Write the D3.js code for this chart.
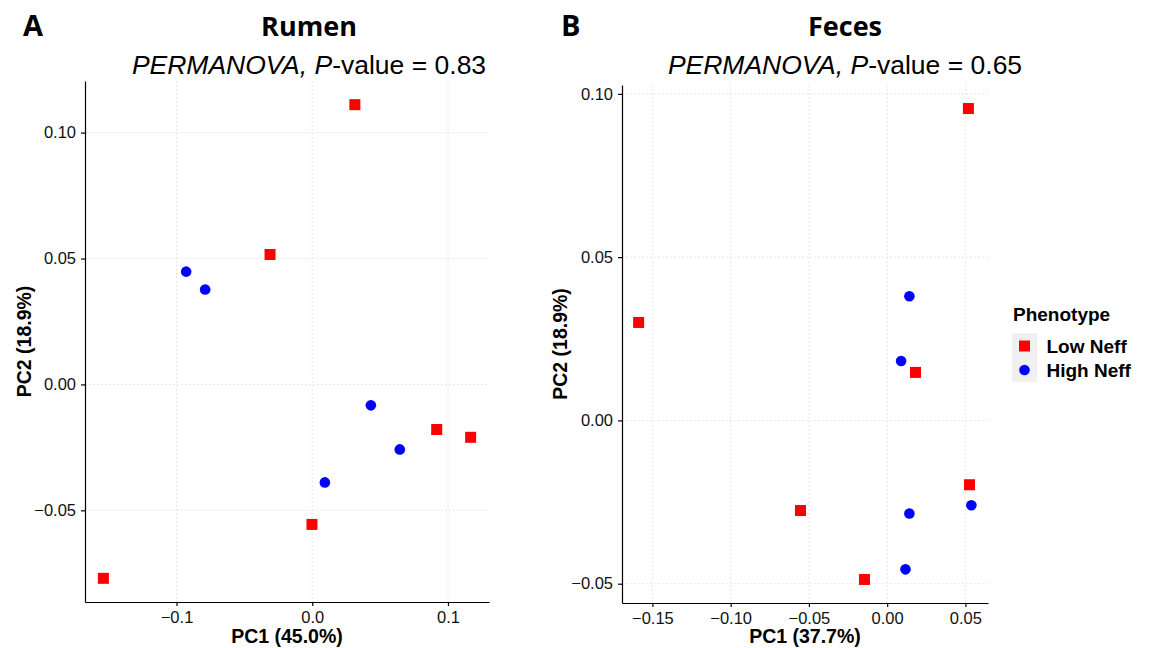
<!DOCTYPE html>
<html>
<head>
<meta charset="utf-8">
<script src="https://cdn.jsdelivr.net/npm/d3@7"></script>
<style>
  body { margin: 0; background: #fff; }
  svg { display: block; font-family: "Liberation Sans", Arial, sans-serif; }
  .grid line { stroke: #dcdcdc; stroke-width: 0.9; stroke-dasharray: 1.5,2.5; }
  .axis path, .axis line { stroke: #000; stroke-width: 1.2; }
  .axis text { font-size: 16.5px; fill: #111; }
</style>
</head>
<body>
<svg width="1149" height="648"></svg>
<script>
// phenotype groups
var phenotypes = ["Low Neff", "High Neff"];
var colors = ["#ff0000", "#0000ff"];

// Rumen PCoA scores
var rumenLowPC1  = [0.0314, -0.0311, 0.0917, 0.1167, -0.0002, -0.1539];
var rumenLowPC2  = [0.1111, 0.0516, -0.0179, -0.0210, -0.0556, -0.0770];
var rumenHighPC1 = [-0.0929, -0.0789, 0.0432, 0.0645, 0.0093];
var rumenHighPC2 = [0.0448, 0.0377, -0.0083, -0.0258, -0.0389];

// Feces PCoA scores
var fecesLowPC1  = [0.0519, -0.1588, 0.0181, 0.0526, -0.0554, -0.0145];
var fecesLowPC2  = [0.0955, 0.0300, 0.0147, -0.0197, -0.0276, -0.0487];
var fecesHighPC1 = [0.0142, 0.0089, 0.0142, 0.0538, 0.0117];
var fecesHighPC2 = [0.0380, 0.0182, -0.0285, -0.0260, -0.0456];

// tick values
var rumenXTicks = [-0.1, 0, 0.1];
var rumenYTicks = [-0.05, 0, 0.05, 0.1];
var fecesXTicks = [-0.15, -0.1, -0.05, 0, 0.05];
var fecesYTicks = [-0.05, 0, 0.05, 0.1];

var svg = d3.select("svg");

function toPoints(pc1, pc2, group) {
    return pc1.map(function(v, i) { return {x: v, y: pc2[i], group: group}; });
}

// ggplot style 5% expansion
function expanded(values) {
    var ext = d3.extent(values), pad = (ext[1] - ext[0]) * 0.05;
    return [ext[0] - pad, ext[1] + pad];
}

function drawPanel(p) {
    var data = toPoints(p.lowX, p.lowY, 0).concat(toPoints(p.highX, p.highY, 1));

    var x = d3.scaleLinear()
        .domain(expanded(data.map(function(d) { return d.x; })))
        .range([p.left, p.right]);
    var y = d3.scaleLinear()
        .domain(expanded(data.map(function(d) { return d.y; })))
        .range([p.bottom, p.top]);

    var g = svg.append("g");

    // dotted grid
    g.append("g").attr("class", "grid")
        .selectAll("line.v").data(p.xTicks).enter().append("line")
        .attr("x1", function(d) { return x(d); }).attr("x2", function(d) { return x(d); })
        .attr("y1", p.top).attr("y2", p.bottom);
    g.append("g").attr("class", "grid")
        .selectAll("line.h").data(p.yTicks).enter().append("line")
        .attr("y1", function(d) { return y(d); }).attr("y2", function(d) { return y(d); })
        .attr("x1", p.left).attr("x2", p.right);

    g.append("g")
        .attr("class", "axis")
        .attr("transform", "translate(0," + p.bottom + ")")
        .call(d3.axisBottom(x).tickValues(p.xTicks).tickFormat(d3.format(p.xFormat))
            .tickSize(4).tickPadding(5).tickSizeOuter(0));

    g.append("g")
        .attr("class", "axis")
        .attr("transform", "translate(" + p.left + ",0)")
        .call(d3.axisLeft(y).tickValues(p.yTicks).tickFormat(d3.format(".2f"))
            .tickSize(4).tickPadding(5).tickSizeOuter(0));

    // points
    g.selectAll(".sq")
        .data(data.filter(function(d) { return d.group === 0; }))
        .enter().append("rect")
        .attr("x", function(d) { return x(d.x) - 5.5; })
        .attr("y", function(d) { return y(d.y) - 5.5; })
        .attr("width", 11).attr("height", 11)
        .attr("fill", colors[0]);
    g.selectAll(".dot")
        .data(data.filter(function(d) { return d.group === 1; }))
        .enter().append("circle")
        .attr("cx", function(d) { return x(d.x); })
        .attr("cy", function(d) { return y(d.y); })
        .attr("r", 5.3)
        .attr("fill", colors[1]);

    // titles
    svg.append("text")
        .attr("x", p.letterX).attr("y", 36)
        .style("font-family", "'Open Sans', sans-serif")
        .style("font-weight", "bold").style("font-size", "29px")
        .text(p.letter);
    svg.append("text")
        .attr("x", p.titleX).attr("y", 36)
        .attr("text-anchor", "middle")
        .style("font-family", "'Open Sans', sans-serif")
        .style("font-weight", "bold").style("font-size", "27px")
        .text(p.title);
    var sub = svg.append("text")
        .attr("x", p.titleX).attr("y", 74)
        .attr("text-anchor", "middle")
        .style("font-size", "26.5px");
    sub.append("tspan").style("font-style", "italic").text("PERMANOVA, P");
    sub.append("tspan").text("-value = " + p.pvalue);

    svg.append("text")
        .attr("x", (p.left + p.right) / 2).attr("y", 643)
        .attr("text-anchor", "middle")
        .style("font-weight", "bold").style("font-size", "19.5px")
        .text(p.xLabel);
    svg.append("text")
        .attr("transform", "translate(" + p.yLabelX + "," + (p.top + p.bottom) / 2 + ") rotate(-90)")
        .attr("text-anchor", "middle")
        .style("font-weight", "bold").style("font-size", "19.5px")
        .text(p.yLabel);
}

drawPanel({
    lowX: rumenLowPC1, lowY: rumenLowPC2, highX: rumenHighPC1, highY: rumenHighPC2,
    xTicks: rumenXTicks, yTicks: rumenYTicks, xFormat: ".1f",
    left: 85, right: 489, top: 81, bottom: 602,
    letter: "A", letterX: 23, title: "Rumen", titleX: 309, pvalue: "0.83",
    xLabel: "PC1 (45.0%)", yLabel: "PC2 (18.9%)", yLabelX: 31
});

drawPanel({
    lowX: fecesLowPC1, lowY: fecesLowPC2, highX: fecesHighPC1, highY: fecesHighPC2,
    xTicks: fecesXTicks, yTicks: fecesYTicks, xFormat: ".2f",
    left: 622, right: 988, top: 85, bottom: 603,
    letter: "B", letterX: 561, title: "Feces", titleX: 845, pvalue: "0.65",
    xLabel: "PC1 (37.7%)", yLabel: "PC2 (18.9%)", yLabelX: 567
});

// legend
var legend = svg.append("g").attr("transform", "translate(1012,0)");
legend.append("text")
    .attr("x", 1).attr("y", 321)
    .style("font-weight", "bold").style("font-size", "19px")
    .text("Phenotype");
legend.append("rect")
    .attr("x", 0).attr("y", 333).attr("width", 25).attr("height", 49)
    .attr("fill", "#f0f0f0");
legend.selectAll(".key")
    .data(phenotypes)
    .enter().append("g")
    .attr("transform", function(d, i) { return "translate(12.5," + (346 + i * 24) + ")"; })
    .each(function(d, i) {
        var k = d3.select(this);
        if (i === 0) {
            k.append("rect").attr("x", -5.5).attr("y", -5.5).attr("width", 11).attr("height", 11)
                .attr("fill", colors[i]);
        } else {
            k.append("circle").attr("r", 5.3).attr("fill", colors[i]);
        }
        k.append("text")
            .attr("x", 22).attr("y", 7)
            .style("font-weight", "bold").style("font-size", "19px")
            .text(d);
    });
</script>
</body>
</html>
